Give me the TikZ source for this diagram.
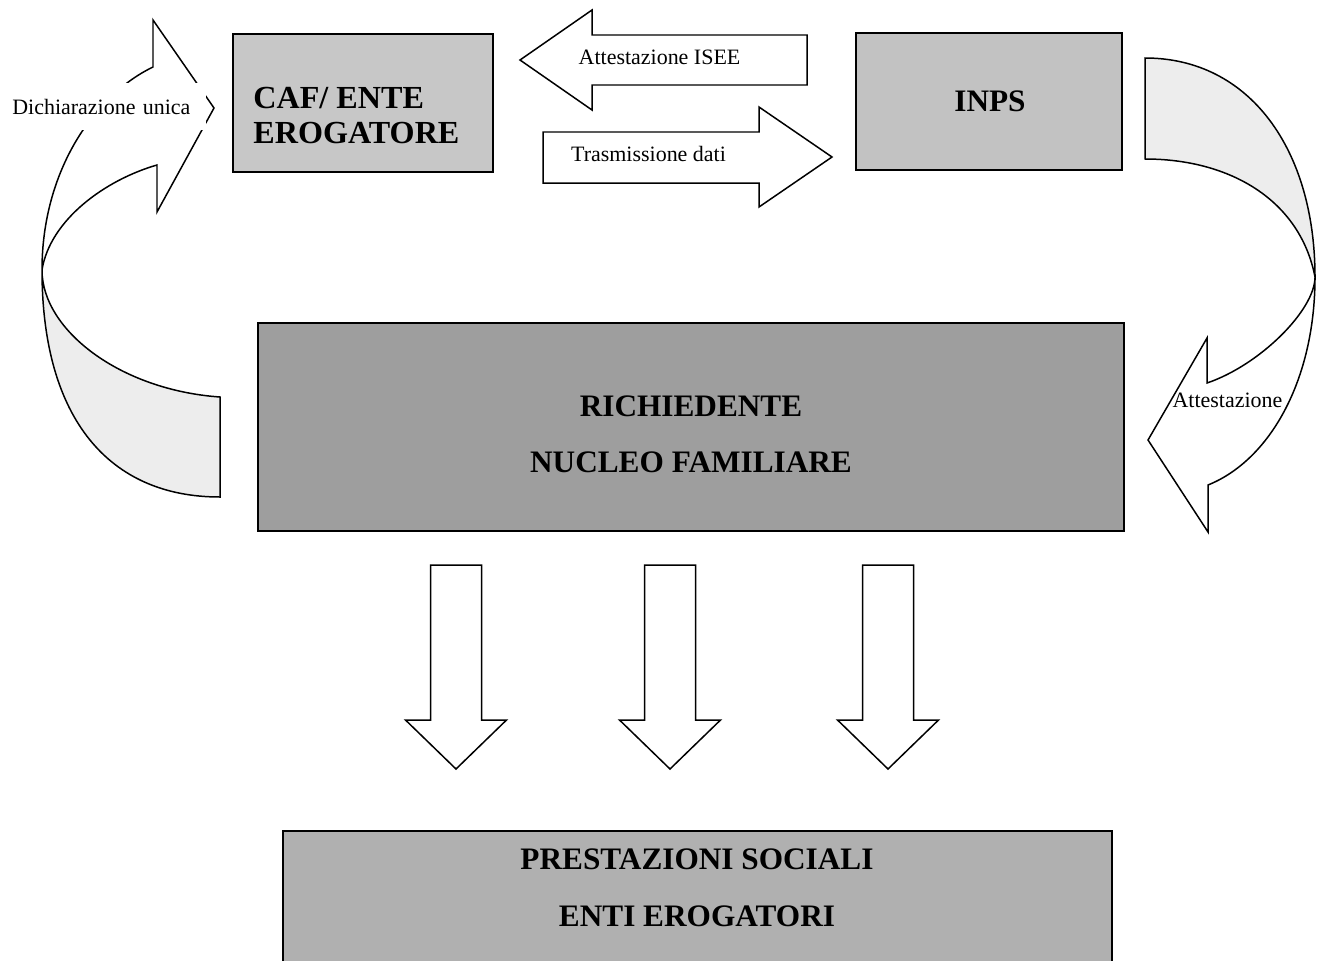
\documentclass[tikz,border=0pt]{standalone}
\usepackage{fontspec}
\setmainfont{Liberation Serif}
\definecolor{cafgray}{gray}{0.78}
\definecolor{inpsgray}{gray}{0.76}
\definecolor{richgray}{gray}{0.62}
\definecolor{prestgray}{gray}{0.69}
\definecolor{curvfill}{gray}{0.93}
\begin{document}
\begin{tikzpicture}[x=0.02cm,y=-0.02cm,
  box/.style={rectangle, draw=black, line width=1.2pt, inner sep=0pt},
  blk/.style={draw=black, line width=0.85pt, fill=white, line join=miter},
  curv/.style={draw=black, line width=0.85pt, line join=miter},
  lbl/.style={font=\fontsize{12.5}{15}\selectfont, inner sep=0pt},
  big/.style={inner sep=0pt, align=center}]
\useasboundingbox (0,0) rectangle (1317,960);
\clip (0,0) rectangle (1317,960);

% ---- boxes ----
\node[box, fill=cafgray, minimum width=5.2cm, minimum height=2.76cm] (caf) at (363,103) {};
\node[big, align=left, anchor=west, font=\fontsize{18.3}{19.6}\selectfont\bfseries] (caftext) at (253,115.5) {CAF/ ENTE\\EROGATORE};

\node[box, fill=inpsgray, minimum width=5.32cm, minimum height=2.74cm] (inps) at (989,101.5) {};
\node[big, font=\fontsize{17.8}{20}\selectfont\bfseries] (inpstext) at (990,101) {INPS};

\node[box, fill=richgray, minimum width=17.32cm, minimum height=4.16cm] (rich) at (691,427) {};
\node[big, font=\fontsize{17.8}{31.75}\selectfont\bfseries] (richtext) at (691,434) {RICHIEDENTE\\NUCLEO FAMILIARE};

\node[box, fill=prestgray, minimum width=16.58cm, minimum height=3.38cm] (prest) at (697.5,915.5) {};
\node[big, font=\fontsize{17.8}{32.3}\selectfont\bfseries] (presttext) at (697,887.5) {PRESTAZIONI SOCIALI\\ENTI EROGATORI};

% ---- straight block arrows ----
\draw[blk] (520,60) -- (592,10) -- (592,35) -- (807,35) -- (807,85) -- (592,85) -- (592,110) -- cycle;
\node[lbl] (isee) at (659.5,57) {Attestazione ISEE};
\draw[blk] (832,157) -- (759,107) -- (759,132) -- (543,132) -- (543,183) -- (759,183) -- (759,207) -- cycle;
\node[lbl] (trasm) at (648.5,154) {Trasmissione dati};

\foreach \c in {456,670,888}{
  \draw[blk] (\c-25.5,565) -- (\c+25.5,565) -- (\c+25.5,720) -- (\c+50.5,720) -- (\c,769) -- (\c-50.5,720) -- (\c-25.5,720) -- cycle;
}

% ---- left curved arrow (Dichiarazione unica) ----
\fill[curvfill] (42,270) .. controls (42,420) and (110,497) .. (220,497) -- (220,397) .. controls (120,390) and (42,330) .. (42,270) -- cycle;
\draw[curv] (214,108) -- (153,20) -- (153,67) .. controls (95,95) and (42,170) .. (42,270) .. controls (42,420) and (110,497) .. (220,497) -- (220,397) .. controls (120,390) and (42,330) .. (42,270) .. controls (50,220) and (105,180) .. (157,165) -- (157,212) -- cycle;
\node[lbl, fill=white, anchor=west, inner xsep=0.24cm, text width=3.64cm, align=left, minimum height=0.94cm] (dich) at (0,106.5) {Dichiarazione unica};

% ---- right curved arrow (Attestazione) ----
\fill[curvfill] (1145,58) .. controls (1250,58) and (1315,150) .. (1315,277) .. controls (1300,200) and (1230,159) .. (1145,159) -- cycle;
\draw[curv] (1145,58) .. controls (1250,58) and (1315,150) .. (1315,277) .. controls (1315,380) and (1270,460) .. (1208,485) -- (1208,532) -- (1148,440) -- (1207,338) -- (1207,383) .. controls (1260,365) and (1315,310) .. (1315,277) .. controls (1300,200) and (1230,159) .. (1145,159) -- cycle;
\node[lbl] (att) at (1227.5,400) {Attestazione};
\end{tikzpicture}
\end{document}
